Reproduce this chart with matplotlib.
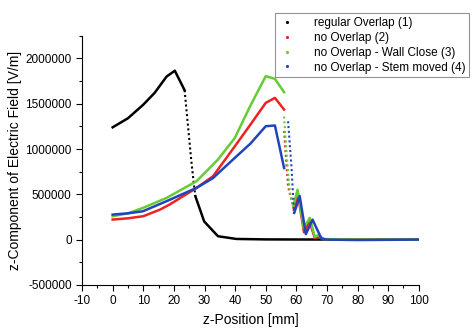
import matplotlib.pyplot as plt
from matplotlib.lines import Line2D
from matplotlib.ticker import MultipleLocator, FuncFormatter

plt.rcParams['font.family'] = ['Liberation Sans', 'DejaVu Sans']
plt.rcParams['axes.unicode_minus'] = False

# (1) regular Overlap
z1_solid_a = [0, 5, 10, 13.7, 17.6, 20.3, 23.5]
e1_solid_a = [1240000, 1340000, 1490000, 1620000, 1800000, 1865000, 1650000]
z1_dots = [23.5, 24.2, 24.9, 25.6, 26.3, 27.0]
e1_dots = [1650000, 1400000, 1150000, 900000, 680000, 480000]
z1_solid_b = [27.0, 29.9, 34.4, 40.4, 50, 60, 70, 80, 90, 100]
e1_solid_b = [480000, 200000, 37000, 7000, 2000, 1000, 500, 0, 0, 0]

# (2) no Overlap
z2_solid_a = [0, 5, 10, 15.4, 18.6, 27.4, 32.8, 39.9, 45, 50, 53, 56]
e2_solid_a = [221000, 235000, 258000, 330000, 387000, 571000, 700000, 1030000, 1270000, 1510000, 1565000, 1436000]
z2_dots = [56.0, 56.4, 56.8, 57.3, 57.9, 58.4, 59.2]
e2_dots = [1200000, 1000000, 810000, 590000, 500000, 440000, 330000]
z2_solid_b = [59.2, 60.5, 62.5, 64.3, 66.0, 67.0, 69.0, 80, 100]
e2_solid_b = [330000, 500000, 80000, 200000, 20000, 30000, 5000, 0, 0]

# (3) no Overlap - Wall Close
z3_solid_a = [0, 5, 9.9, 17.6, 27.4, 30.1, 34.4, 39.9, 45, 50, 53, 56]
e3_solid_a = [258000, 290000, 350000, 460000, 645000, 737000, 884000, 1123000, 1480000, 1805000, 1775000, 1628000]
z3_dots = [56.0, 56.4, 56.8, 57.3, 57.9, 58.5, 59.0]
e3_dots = [1360000, 1150000, 960000, 737000, 520000, 430000, 370000]
z3_solid_b = [59.0, 60.4, 62.4, 64.4, 66.0, 67.2, 69.0, 80, 100]
e3_solid_b = [370000, 550000, 130000, 240000, 30000, 50000, 5000, 0, 0]

# (4) no Overlap - Stem moved
z4_solid_a = [0, 5, 9.9, 17.6, 27.4, 32.8, 39.3, 45, 50, 53, 56]
e4_solid_a = [276000, 290000, 313000, 424000, 571000, 680000, 884000, 1060000, 1252000, 1260000, 790000]
z4_dots = [57.3, 57.6, 57.9, 58.2, 58.4, 58.7, 59.0, 59.3]
e4_dots = [1307000, 1170000, 1030000, 900000, 810000, 620000, 440000, 295000]
z4_solid_b = [59.3, 61.1, 63.1, 65.3, 68.2, 70, 80, 100]
e4_solid_b = [295000, 480000, 60000, 220000, 10000, 0, -5000, 0]

names = ['regular Overlap (1)', 'no Overlap (2)', 'no Overlap - Wall Close (3)', 'no Overlap - Stem moved (4)']
colors = ['#000000', '#ee2222', '#66cc33', '#2244bb']

series = [
    (z1_solid_a, e1_solid_a, z1_dots, e1_dots, z1_solid_b, e1_solid_b),
    (z2_solid_a, e2_solid_a, z2_dots, e2_dots, z2_solid_b, e2_solid_b),
    (z3_solid_a, e3_solid_a, z3_dots, e3_dots, z3_solid_b, e3_solid_b),
    (z4_solid_a, e4_solid_a, z4_dots, e4_dots, z4_solid_b, e4_solid_b),
]

fig = plt.figure(figsize=(4.77, 3.32), dpi=100)
ax = fig.add_axes([0.172, 0.142, 0.706, 0.75])

for (za, ea, zd, ed, zb, eb), c in zip(series, colors):
    ax.plot(za, ea, color=c, lw=1.8)
    ax.plot(zd, ed, color=c, lw=1.5, linestyle=(0, (1, 1.3)))
    ax.plot(zb, eb, color=c, lw=1.8)

ax.set_xlim(-10, 100)
ax.set_ylim(-500000, 2250000)
ax.set_xticks(range(-10, 101, 10))
ax.set_yticks([-500000, 0, 500000, 1000000, 1500000, 2000000])
ax.yaxis.set_major_formatter(FuncFormatter(lambda v, p: '%d' % v))
ax.xaxis.set_minor_locator(MultipleLocator(5))
ax.yaxis.set_minor_locator(MultipleLocator(250000))
ax.spines['top'].set_visible(False)
ax.spines['right'].set_visible(False)
ax.tick_params(direction='out', labelsize=8.5, length=4, width=0.8)
ax.tick_params(which='minor', direction='out', length=2.5, width=0.8)
ax.set_xlabel('z-Position [mm]', fontsize=10, labelpad=4)
ax.set_ylabel('z-Component of Electric Field [V/m]', fontsize=10, labelpad=2)

handles = [Line2D([], [], color=c, marker='.', markersize=2.5, linestyle='none') for c in colors]
leg = fig.legend(handles, names, loc='upper right', bbox_to_anchor=(0.996, 0.978),
                 fontsize=8.5, frameon=True, fancybox=False, edgecolor='#777777',
                 handlelength=1.5, handletextpad=1.5, borderpad=0.3, labelspacing=0.25)
leg.get_frame().set_linewidth(0.8)

fig.savefig('out.png', dpi=100)
